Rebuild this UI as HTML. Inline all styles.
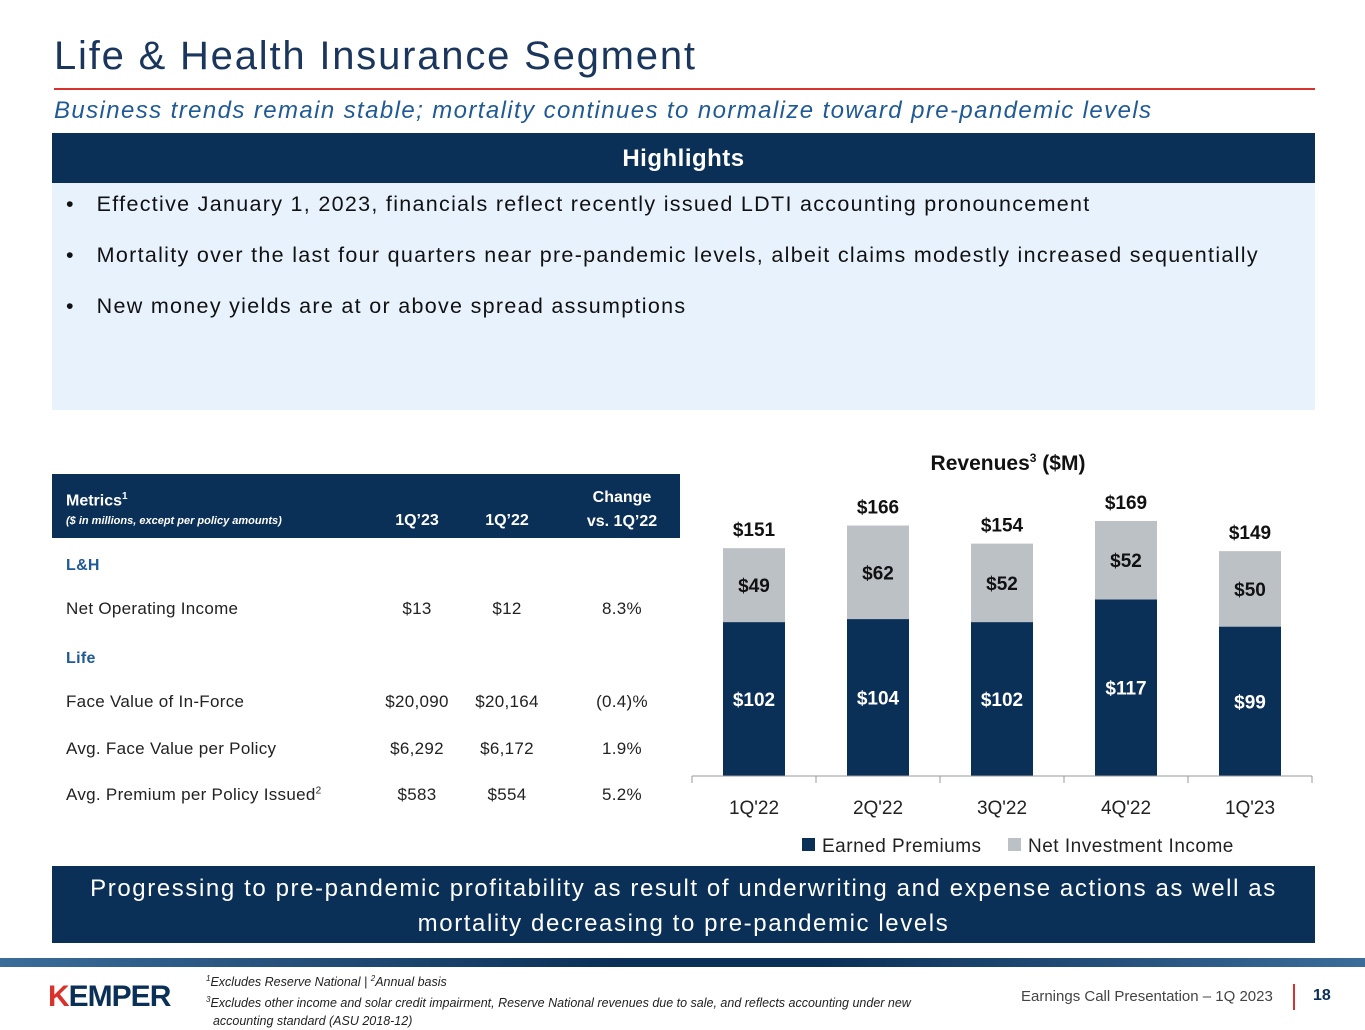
<!DOCTYPE html>
<html><head><meta charset="utf-8"><style>
body{margin:0;width:1365px;height:1024px;position:relative;background:#fff;font-family:"Liberation Sans",sans-serif;overflow:hidden}
.a{position:absolute}
</style></head><body>
<div class="a" style="left:54px;top:34px;font-size:40px;color:#1b365d;letter-spacing:1.8px">Life &amp; Health Insurance Segment</div>
<div class="a" style="left:54px;top:88px;width:1261px;height:2px;background:#d9312b"></div>
<div class="a" style="left:54px;top:97px;font-size:24px;font-style:italic;color:#1f5a96;letter-spacing:1.4px">Business trends remain stable; mortality continues to normalize toward pre-pandemic levels</div>
<div class="a" style="left:52px;top:133px;width:1263px;height:50px;background:#0b3057;color:#fff;font-weight:bold;font-size:24px;text-align:center;line-height:52px;letter-spacing:0.5px">Highlights</div>
<div class="a" style="left:52px;top:183px;width:1263px;height:227px;background:#e8f2fd"></div>
<div class="a" style="left:66px;top:192px;font-size:21.5px;color:#111;letter-spacing:1.3px">•&nbsp;&nbsp;&nbsp;Effective January 1, 2023, financials reflect recently issued LDTI accounting pronouncement</div>
<div class="a" style="left:66px;top:243px;font-size:21.5px;color:#111;letter-spacing:1.3px">•&nbsp;&nbsp;&nbsp;Mortality over the last four quarters near pre-pandemic levels, albeit claims modestly increased sequentially</div>
<div class="a" style="left:66px;top:294px;font-size:21.5px;color:#111;letter-spacing:1.3px">•&nbsp;&nbsp;&nbsp;New money yields are at or above spread assumptions</div>

<div class="a" style="left:52px;top:474px;width:628px;height:64px;background:#0b3057;color:#fff;font-weight:bold">
 <div class="a" style="left:14px;top:17px;font-size:16px">Metrics<sup style="font-size:10px">1</sup></div>
 <div class="a" style="left:14px;top:41px;font-size:11px;font-style:italic">($ in millions, except per policy amounts)</div>
 <div class="a" style="left:330px;top:38px;width:70px;text-align:center;font-size:16px">1Q’23</div>
 <div class="a" style="left:420px;top:38px;width:70px;text-align:center;font-size:16px">1Q’22</div>
 <div class="a" style="left:520px;top:12px;width:100px;text-align:center;font-size:16px;line-height:24px">Change<br>vs. 1Q’22</div>
</div>
<div class="a" style="left:52px;top:538px;width:628px;height:280px;font-size:17px;color:#222;letter-spacing:0.3px">
 <div class="a" style="left:14px;top:19px;font-weight:bold;color:#1f5a96;font-size:16px">L&amp;H</div>
 <div class="a" style="left:14px;top:61px">Net Operating Income</div><div class="a" style="left:320px;top:61px;width:90px;text-align:center">$13</div><div class="a" style="left:410px;top:61px;width:90px;text-align:center">$12</div><div class="a" style="left:520px;top:61px;width:100px;text-align:center">8.3%</div>
 <div class="a" style="left:14px;top:112px;font-weight:bold;color:#1f5a96;font-size:16px">Life</div>
 <div class="a" style="left:14px;top:154px">Face Value of In-Force</div><div class="a" style="left:320px;top:154px;width:90px;text-align:center">$20,090</div><div class="a" style="left:410px;top:154px;width:90px;text-align:center">$20,164</div><div class="a" style="left:520px;top:154px;width:100px;text-align:center">(0.4)%</div>
 <div class="a" style="left:14px;top:201px">Avg. Face Value per Policy</div><div class="a" style="left:320px;top:201px;width:90px;text-align:center">$6,292</div><div class="a" style="left:410px;top:201px;width:90px;text-align:center">$6,172</div><div class="a" style="left:520px;top:201px;width:100px;text-align:center">1.9%</div>
 <div class="a" style="left:14px;top:247px">Avg. Premium per Policy Issued<sup style="font-size:10px">2</sup></div><div class="a" style="left:320px;top:247px;width:90px;text-align:center">$583</div><div class="a" style="left:410px;top:247px;width:90px;text-align:center">$554</div><div class="a" style="left:520px;top:247px;width:100px;text-align:center">5.2%</div>
</div>

<svg class="a" style="left:0;top:0" width="1365" height="1024">
<text x="1008" y="470" text-anchor="middle" font-size="21" font-weight="bold" fill="#111">Revenues<tspan font-size="12" dy="-8">3</tspan><tspan dy="8"> ($M)</tspan></text>
<g id="g"></g>
<rect x="802" y="838" width="13" height="13" fill="#0b3057"/>
<text x="822" y="852" font-size="19" fill="#222" letter-spacing="0.5">Earned Premiums</text>
<rect x="1008" y="838" width="13" height="13" fill="#bcc1c6"/>
<text x="1028" y="852" font-size="19" fill="#222" letter-spacing="0.5">Net Investment Income</text>
</svg>

<div class="a" style="left:52px;top:866px;width:1263px;height:77px;background:#0b3057;color:#fff;font-size:24px;text-align:center;line-height:35px;padding-top:5px;box-sizing:border-box;letter-spacing:1.6px">Progressing to pre-pandemic profitability as result of underwriting and expense actions as well as<br>mortality decreasing to pre-pandemic levels</div>
<div class="a" style="left:0;top:958px;width:1365px;height:9px;background:linear-gradient(90deg,#3b6c9a,#0b3057 45%,#0b3057 60%,#3b6c9a)"></div>
<div class="a" style="left:48px;top:980px;font-size:30px;font-weight:bold;color:#0b3057;letter-spacing:-1px"><span style="color:#d9312b">K</span>EMPER</div>
<div class="a" style="left:206px;top:970px;font-size:12.5px;font-style:italic;color:#222;line-height:18px"><sup style="font-size:8px">1</sup>Excludes Reserve National | <sup style="font-size:8px">2</sup>Annual basis<br><sup style="font-size:8px">3</sup>Excludes other income and solar credit impairment, Reserve National revenues due to sale, and reflects accounting under new<br>&nbsp;&nbsp;accounting standard (ASU 2018-12)</div>
<div class="a" style="left:1021px;top:988px;font-size:15px;color:#444">Earnings Call Presentation – 1Q 2023</div>
<div class="a" style="left:1293px;top:984px;width:2px;height:26px;background:#d9312b"></div>
<div class="a" style="left:1313px;top:987px;font-size:16px;font-weight:bold;color:#0b3057">18</div>

<script>
const categories=["1Q'22","2Q'22","3Q'22","4Q'22","1Q'23"];
const earned=[102,104,102,117,99];
const nii=[49,62,52,52,50];
const totals=[151,166,154,169,149];
const NS="http://www.w3.org/2000/svg";
const g=document.getElementById('g');
const base=776,scale=1.509,x0=692,step=124,bw=62;
const y=v=>base-v*scale, xc=i=>x0+step*(i+0.5);
function el(t,a){const e=document.createElementNS(NS,t);for(const k in a)e.setAttribute(k,a[k]);g.appendChild(e);return e;}
categories.forEach((c,i)=>{
 const e1=el('rect',{x:xc(i)-bw/2,y:y(earned[i]),width:bw,height:earned[i]*scale,fill:'#0b3057'});
 
 
 const e2=el('rect',{x:xc(i)-bw/2,y:y(earned[i]+nii[i]),width:bw,height:nii[i]*scale,fill:'#bcc1c6'});
 
 
 const t1=el('text',{x:xc(i),y:y(earned[i]/2)+7,'text-anchor':'middle','font-size':19,'font-weight':'bold',fill:'#fff'});t1.textContent='$'+earned[i];
 
 
 const t2=el('text',{x:xc(i),y:y(earned[i]+nii[i]/2)+7,'text-anchor':'middle','font-size':19,'font-weight':'bold',fill:'#111'});t2.textContent='$'+nii[i];
 
 
 const t3=el('text',{x:xc(i),y:y(totals[i])-12,'text-anchor':'middle','font-size':19,'font-weight':'bold',fill:'#111'});t3.textContent='$'+totals[i];
 
 
 const t4=el('text',{x:xc(i),y:814,'text-anchor':'middle','font-size':19,fill:'#222'});t4.textContent=c;
 
 
});
const ax=el('line',{x1:x0,x2:x0+step*5,y1:base,y2:base,stroke:'#999','stroke-width':1});


for(let i=0;i<=5;i++){const tk=el('line',{x1:x0+step*i,x2:x0+step*i,y1:base,y2:base+7,stroke:'#999'});
 
 }
</script>
</body></html>
